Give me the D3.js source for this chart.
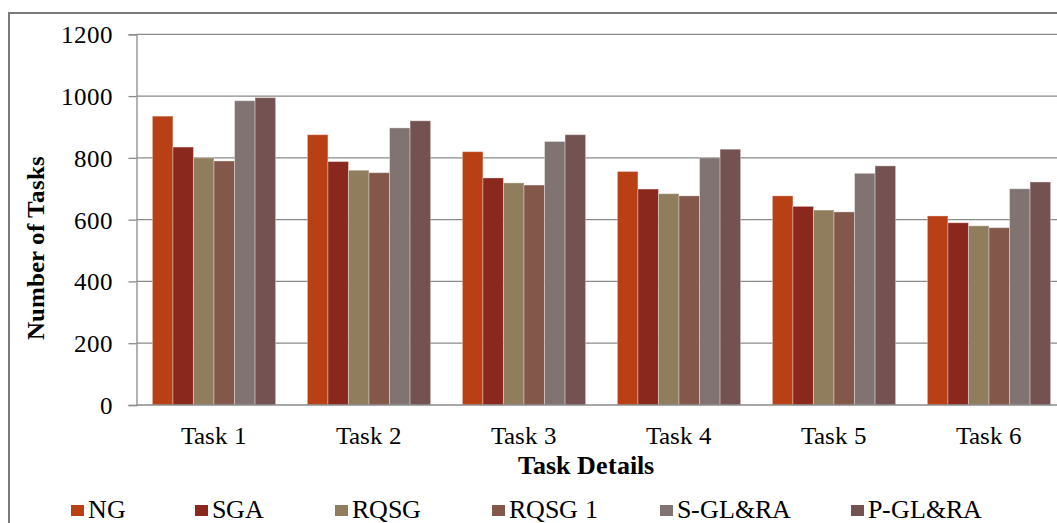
<!DOCTYPE html>
<html>
<head>
<meta charset="utf-8">
<script src="https://cdn.jsdelivr.net/npm/d3@7/dist/d3.min.js"></script>
<style>
  @font-face {
    font-family: "ChartSerif";
    src: local("Liberation Serif"), local("LiberationSerif"), local("LiberationSerif-Regular");
    font-weight: normal;
  }
  @font-face {
    font-family: "ChartSerif";
    src: local("Liberation Serif Bold"), local("LiberationSerif-Bold");
    font-weight: bold;
  }
  html, body { margin: 0; padding: 0; background: #fff; }
  svg { display: block; font-family: "ChartSerif", "Liberation Serif", serif; }
</style>
</head>
<body>
<svg id="chart" width="1057" height="523"></svg>
<script>
// Task groups along the x axis
const tasks = ["Task 1", "Task 2", "Task 3", "Task 4", "Task 5", "Task 6"];

// Algorithms compared, in bar order within each group
const seriesNames = ["NG", "SGA", "RQSG", "RQSG 1", "S-GL&RA", "P-GL&RA"];
const seriesColors = ["#B93F14", "#8A281E", "#8F7D5D", "#83574A", "#807372", "#745251"];

// Number of tasks completed, one array per algorithm (Task 1 .. Task 6)
const ngValues    = [935, 875, 820, 756, 677, 612];
const sgaValues   = [835, 788, 735, 699, 643, 590];
const rqsgValues  = [800, 760, 719, 684, 631, 580];
const rqsg1Values = [790, 752, 712, 677, 625, 574];
const sglraValues = [985, 897, 853, 800, 750, 700];
const pglraValues = [995, 920, 875, 828, 774, 722];

const yTicks = [0, 200, 400, 600, 800, 1000, 1200];

const allSeries = [ngValues, sgaValues, rqsgValues, rqsg1Values, sglraValues, pglraValues];

const serif = '"ChartSerif", "Liberation Serif", serif';
const svg = d3.select("#chart");

// Outer chart frame
svg.append("rect")
  .attr("x", 9).attr("y", 13)
  .attr("width", 1100).attr("height", 560)
  .attr("fill", "none")
  .attr("stroke", "#7a7a7a")
  .attr("stroke-width", 2);

const plotLeft = 136.5, step = 155;
const plotRight = plotLeft + step * tasks.length;

const x0 = d3.scaleBand()
  .domain(tasks)
  .range([plotLeft, plotRight])
  .paddingInner(0.205)
  .paddingOuter(0.1025);

const x1 = d3.scaleBand()
  .domain(seriesNames)
  .range([0, x0.bandwidth()]);

const y = d3.scaleLinear().domain([0, 1200]).range([405, 34.3]);

// Horizontal gridlines
svg.append("g")
  .selectAll("line")
  .data(yTicks.filter(d => d > 0))
  .join("line")
  .attr("x1", plotLeft).attr("x2", plotRight + 20)
  .attr("y1", d => y(d)).attr("y2", d => y(d))
  .attr("stroke", "#8a8a8a")
  .attr("stroke-width", 1.3);

// Bars
const groups = svg.append("g")
  .selectAll("g")
  .data(tasks)
  .join("g")
  .attr("transform", d => `translate(${x0(d)},0)`);

groups.selectAll("rect")
  .data((t, ti) => seriesNames.map((s, si) => ({ s, si, v: allSeries[si][ti] })))
  .join("rect")
  .attr("x", d => x1(d.s))
  .attr("y", d => y(d.v))
  .attr("width", x1.bandwidth())
  .attr("height", d => y(0) - y(d.v))
  .attr("fill", d => seriesColors[d.si])
  .attr("stroke", "rgba(255,255,255,0.35)")
  .attr("stroke-width", 1);

// Y axis
const yAxis = svg.append("g")
  .attr("transform", `translate(${plotLeft},0)`)
  .call(d3.axisLeft(y).tickValues(yTicks).tickSize(8).tickPadding(16).tickFormat(d3.format("d")))
  .attr("font-family", serif)
  .attr("font-size", 25);
yAxis.select(".domain").attr("stroke", "#8a8a8a").attr("stroke-width", 1.3);
yAxis.selectAll(".tick line").attr("stroke", "#8a8a8a").attr("stroke-width", 1.3);
yAxis.selectAll(".tick text")
  .attr("fill", "#000")
  .attr("dy", "0.34em");

// X axis baseline
svg.append("line")
  .attr("x1", plotLeft).attr("x2", plotRight + 20)
  .attr("y1", y(0)).attr("y2", y(0))
  .attr("stroke", "#8a8a8a").attr("stroke-width", 1.3);

// Category labels
svg.append("g")
  .selectAll("text")
  .data(tasks)
  .join("text")
  .attr("x", d => x0(d) + x0.bandwidth() / 2)
  .attr("y", 444)
  .attr("text-anchor", "middle")
  .attr("font-family", serif)
  .attr("font-size", 25)
  .text(d => d);

// Axis titles
svg.append("text")
  .attr("x", 586).attr("y", 474)
  .attr("text-anchor", "middle")
  .attr("font-family", serif)
  .attr("font-size", 26)
  .attr("font-weight", "bold")
  .text("Task Details");

svg.append("text")
  .attr("transform", "translate(44,248) rotate(-90)")
  .attr("text-anchor", "middle")
  .attr("font-family", serif)
  .attr("font-size", 25)
  .attr("font-weight", "bold")
  .text("Number of Tasks");

// Legend along the bottom, one slot per series
const legendSlots = [71, 195, 335, 492, 660, 851];
const legend = svg.append("g")
  .selectAll("g")
  .data(seriesNames)
  .join("g")
  .attr("transform", (d, i) => `translate(${legendSlots[i]},0)`);

legend.append("rect")
  .attr("x", 0).attr("y", 505)
  .attr("width", 13).attr("height", 11)
  .attr("fill", (d, i) => seriesColors[i]);

legend.append("text")
  .attr("x", 17).attr("y", 518)
  .attr("font-family", serif)
  .attr("font-size", 26)
  .text(d => d);
</script>
</body>
</html>
